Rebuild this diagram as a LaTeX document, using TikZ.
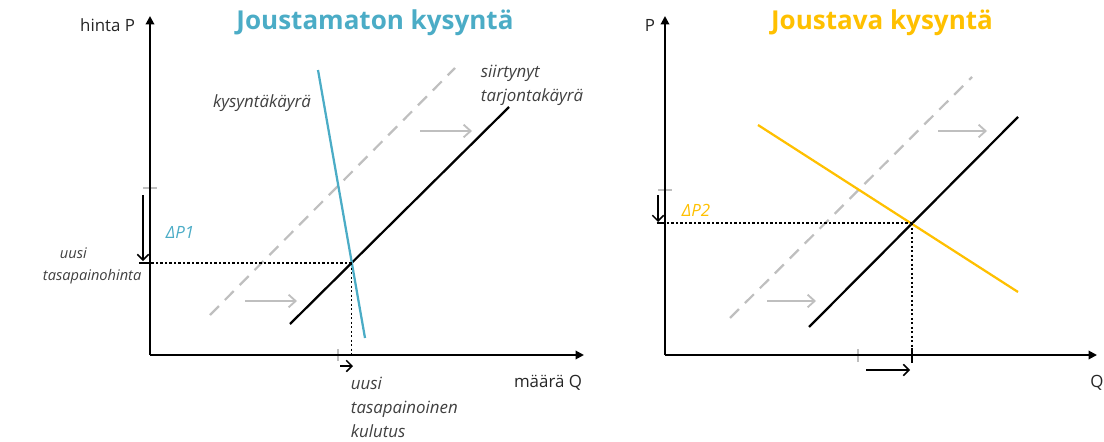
\documentclass[tikz,border=0pt]{standalone}
\usepackage{fontspec}
\setmainfont{Open Sans}
\usetikzlibrary{arrows.meta}

\definecolor{tealc}{HTML}{4BACC6}
\definecolor{goldc}{HTML}{FFC000}
\definecolor{shiftc}{HTML}{BFBFBF}
\definecolor{textc}{HTML}{404040}

\tikzset{
  axis/.style={line width=1.4pt,-{Triangle[length=6pt,width=6pt]}},
  supply/.style={line width=1.6pt,black},
  oldsupply/.style={line width=1.6pt,shiftc,dash pattern=on 9pt off 6pt},
  guide/.style={line width=1.4pt,dash pattern=on 1.6pt off 1.6pt},
  shiftarrow/.style={line width=1.3pt,shiftc,-{Straight Barb[length=5pt,width=9pt]}},
  movearrow/.style={line width=1.1pt,-{Straight Barb[length=4pt,width=8pt]}},
  axlabel/.style={font=\fontsize{12}{14}\selectfont,text=black!85},
  curvelabel/.style={font=\fontsize{12}{17}\selectfont\itshape,text=textc,align=left},
  title/.style={font=\fontsize{18.5}{20}\selectfont\bfseries}
}

\begin{document}
\begin{tikzpicture}[x=0.025cm,y=-0.025cm,line join=round]
  \useasboundingbox (0,0) rectangle (1104,441);

  % ---- left panel: inelastic demand ------------------------------------
  \coordinate (Lo)  at (150,355);
  \coordinate (Ly)  at (150,16);
  \coordinate (Lx)  at (584,355);
  \coordinate (LE)  at (351.5,263);   % new equilibrium

  \node[title,text=tealc] (ltitle) at (375,23) {Joustamaton kysyntä};
  \node[axlabel,anchor=east] (lp) at (140,25) {hinta P};
  \node[axlabel] (lq) at (548,383) {määrä Q};

  % old and new supply, demand
  \coordinate (Ls0a) at (210,315);  \coordinate (Ls0b) at (455,68);
  \coordinate (Ls1a) at (290,324);  \coordinate (Ls1b) at (509,107);
  \coordinate (Lda)  at (318,70);   \coordinate (Ldb)  at (365,338);
  \draw[oldsupply] (Ls0a) -- (Ls0b);
  \draw[supply] (Ls1a) -- (Ls1b);
  \draw[line width=1.6pt,tealc] (Lda) -- (Ldb);

  % guides to the axes
  \draw[guide] (LE) -- (LE -| Lo);
  \draw[guide] (LE) -- (LE |- Lo);
  \draw[line width=1.2pt] ([xshift=-8]LE -| Lo) -- (LE -| Lo);
  \draw[line width=1.2pt,shiftc] (143,188) -- (157,188);
  \draw[line width=1.2pt,shiftc] (338,349) -- (338,361);

  \draw[axis] (Lo) -- (Ly);
  \draw[axis] (Lo) -- (Lx);

  % shift arrows
  \foreach \xa/\ya in {245/301,420/131}
    \draw[shiftarrow] (\xa,\ya) -- ++(52,0);
  \draw[movearrow] (143,195) -- (143,261);
  \draw[movearrow] (340,366) -- (353,366);

  \node[curvelabel] (lkys) at (262,103) {kysyntäkäyrä};
  \node[curvelabel,anchor=north west] (lsiir) at (476,60) {siirtynyt\\tarjontakäyrä};
  \node[curvelabel,font=\fontsize{10.4}{12}\selectfont\itshape,anchor=west] (luusi) at (55,253) {uusi};
  \node[curvelabel,font=\fontsize{10.4}{12}\selectfont\itshape,anchor=west] (lhinta) at (38,277) {tasapainohinta};
  \node[curvelabel,anchor=north west] (lkulu) at (346,372) {uusi\\tasapainoinen\\kulutus};
  \node[curvelabel,text=tealc] (ldp) at (180,232) {ΔP1};

  % ---- right panel: elastic demand -------------------------------------
  \coordinate (Ro)  at (665,355);
  \coordinate (Ry)  at (665,16);
  \coordinate (Rx)  at (1097,355);
  \coordinate (RE)  at (912,223);   % new equilibrium

  \node[title,text=goldc] (rtitle) at (882,23) {Joustava kysyntä};
  \node[axlabel] (rp) at (650,25) {P};
  \node[axlabel] (rq) at (1097,383) {Q};

  \coordinate (Rs0a) at (730,318);  \coordinate (Rs0b) at (972,77);
  \coordinate (Rs1a) at (809,327);  \coordinate (Rs1b) at (1018,117);
  \coordinate (Rda)  at (758,125);  \coordinate (Rdb)  at (1018,292);
  \draw[oldsupply] (Rs0a) -- (Rs0b);
  \draw[supply] (Rs1a) -- (Rs1b);
  \draw[line width=1.6pt,goldc] (Rda) -- (Rdb);

  \draw[guide] (RE) -- (RE -| Ro);
  \draw[guide] (RE) -- (RE |- Ro);
  \draw[line width=1.2pt] ([xshift=-6]RE -| Ro) -- (RE -| Ro);
  \draw[line width=1.2pt] (912,348) -- (912,363);
  \draw[line width=1.2pt,shiftc] (658,190) -- (672,190);
  \draw[line width=1.2pt,shiftc] (858,349) -- (858,362);

  \draw[axis] (Ro) -- (Ry);
  \draw[axis] (Ro) -- (Rx);

  \foreach \xa/\ya in {767/301,938/131}
    \draw[shiftarrow] (\xa,\ya) -- ++(49,0);
  \draw[movearrow] (658,195) -- (658,222);
  \draw[movearrow] (866,370) -- (910,370);

  \node[curvelabel,text=goldc] (rdp) at (696,210) {ΔP2};

\end{tikzpicture}
\end{document}
